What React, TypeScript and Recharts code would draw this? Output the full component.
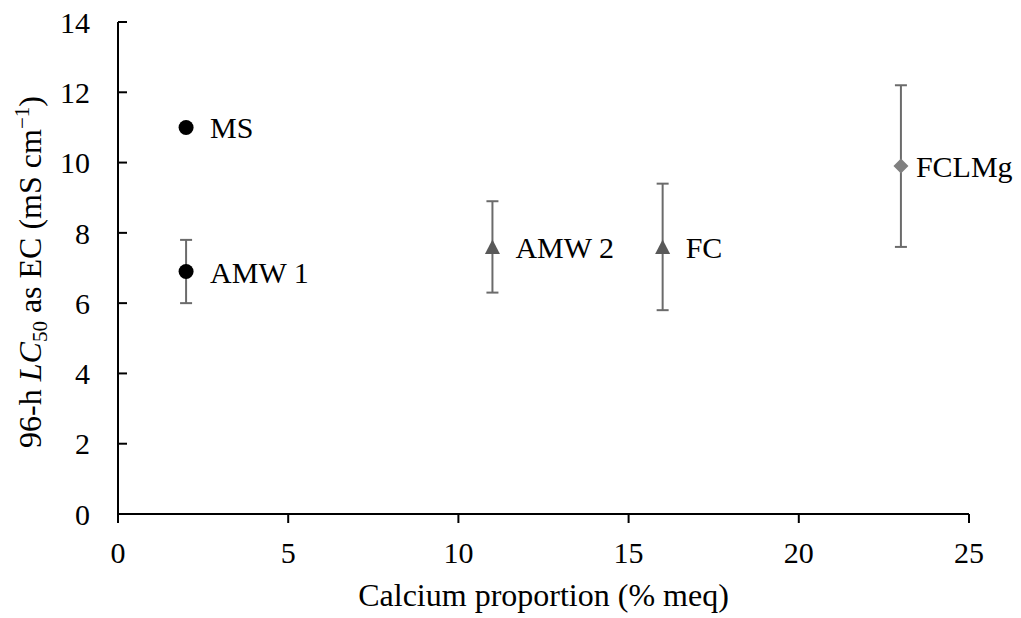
import React from 'react';
import { ScatterChart, Scatter, XAxis, YAxis, ErrorBar } from 'recharts';

const sites = ['MS', 'AMW 1', 'AMW 2', 'FC', 'FCLMg'];
const calcium = [2, 2, 11, 16, 23];
const lc50 = [11.0, 6.9, 7.6, 7.6, 9.9];
const errMinus = [0, 0.9, 1.3, 1.8, 2.3];
const errPlus = [0, 0.9, 1.3, 1.8, 2.3];
const markers = ['circle', 'circle', 'triangle', 'triangle', 'diamond'];

const xTicks = [0, 5, 10, 15, 20, 25];
const yTicks = [0, 2, 4, 6, 8, 10, 12, 14];

const FONT = 'Liberation Serif, Times New Roman, serif';

const rows = sites.map((name, i) => ({
    name,
    x: calcium[i],
    y: lc50[i],
    err: [errMinus[i], errPlus[i]],
    marker: markers[i],
}));

const seriesStyle: Record<string, { fill: string; labelGap: number }> = {
    circle: { fill: '#000000', labelGap: 24 },
    triangle: { fill: '#595959', labelGap: 23 },
    diamond: { fill: '#808080', labelGap: 15 },
};

const Marker = (props: any) => {
    const { cx, cy, payload } = props;
    const kind = payload.marker;
    const style = seriesStyle[kind];
    let mark;
    if (kind === 'circle') {
        mark = <circle cx={cx} cy={cy} r={7.5} fill={style.fill} />;
    } else if (kind === 'triangle') {
        mark = (
            <polygon
                points={`${cx},${cy - 7.5} ${cx + 7.5},${cy + 7} ${cx - 7.5},${cy + 7}`}
                fill={style.fill}
            />
        );
    } else {
        mark = (
            <polygon
                points={`${cx},${cy - 7.5} ${cx + 7.5},${cy} ${cx},${cy + 7.5} ${cx - 7.5},${cy}`}
                fill={style.fill}
            />
        );
    }
    return (
        <g>
            {mark}
            <text x={cx + style.labelGap} y={cy + 11} style={{ fontFamily: FONT }} fontSize={30} fill="#000">
                {payload.name}
            </text>
        </g>
    );
};

const YTitle = () => (
    <text
        transform="translate(41, 272) rotate(-90)"
        x={0}
        y={0}
        textAnchor="middle"
        style={{ fontFamily: FONT }}
        fontSize={32}
        fill="#000"
    >
        <tspan>96-h </tspan>
        <tspan fontStyle="italic">LC</tspan>
        <tspan fontSize={21} dy={6}>50</tspan>
        <tspan dy={-6}> as EC (mS cm</tspan>
        <tspan fontSize={21} dy={-12}>−1</tspan>
        <tspan dy={12}>)</tspan>
    </text>
);

const XTitle = () => (
    <text x={543.5} y={606} textAnchor="middle" style={{ fontFamily: FONT }} fontSize={32} fill="#000">
        Calcium proportion (% meq)
    </text>
);

const groups = ['circle', 'triangle', 'diamond'];

export default function App() {
    return (
        <div
            style={{
                position: 'absolute',
                left: 0,
                top: 0,
                width: 1021,
                height: 618,
                background: '#fff',
                fontFamily: FONT,
            }}
        >
            <ScatterChart
                width={1021}
                height={618}
                margin={{ top: 22, right: 52, bottom: 0, left: 0 }}
                style={{ fontFamily: FONT }}
            >
                <XAxis
                    type="number"
                    dataKey="x"
                    domain={[0, 25]}
                    ticks={xTicks}
                    height={104}
                    axisLine={{ stroke: '#000', strokeWidth: 2 }}
                    tickLine={{ stroke: '#000', strokeWidth: 2 }}
                    tickSize={9}
                    tickMargin={19}
                    tick={{ fill: '#000', fontSize: 30, style: { fontFamily: FONT } }}
                    label={<XTitle />}
                />
                <YAxis
                    type="number"
                    dataKey="y"
                    domain={[0, 14]}
                    ticks={yTicks}
                    width={118}
                    axisLine={{ stroke: '#000', strokeWidth: 2 }}
                    tickLine={{ stroke: '#000', strokeWidth: 2 }}
                    tickSize={-9}
                    tickMargin={37}
                    tick={{ fill: '#000', fontSize: 30, style: { fontFamily: FONT } }}
                    label={<YTitle />}
                />
                {groups.map((g) => (
                    <Scatter
                        key={g}
                        data={rows.filter((r) => r.marker === g)}
                        shape={<Marker />}
                        isAnimationActive={false}
                    >
                        <ErrorBar
                            dataKey="err"
                            direction="y"
                            width={6}
                            stroke="#6b6b6b"
                            strokeWidth={2}
                            isAnimationActive={false}
                        />
                    </Scatter>
                ))}
            </ScatterChart>
        </div>
    );
}
